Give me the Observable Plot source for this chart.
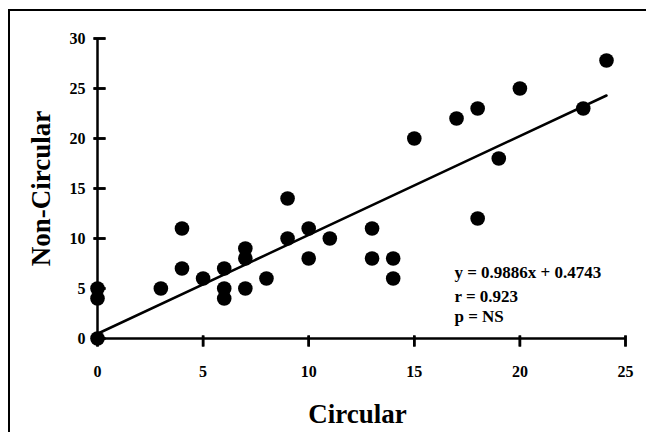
<!DOCTYPE html>
<html>
<head>
<meta charset="utf-8">
<script src="https://cdn.jsdelivr.net/npm/d3@7"></script>
<script src="https://cdn.jsdelivr.net/npm/@observablehq/plot@0.6"></script>
<style>
  html, body { margin: 0; padding: 0; background: #fff; overflow: hidden; width: 646px; height: 432px; }
  #wrap { position: relative; width: 646px; height: 432px; }
  #frame { position: absolute; left: 8px; top: 9px; width: 700px; height: 500px; border-left: 2px solid #000; border-top: 2px solid #000; }
  #chart { position: absolute; left: 0; top: 0; }
</style>
</head>
<body>
<div id="wrap"><div id="frame"></div><div id="chart"></div></div>
<script>
// Data
const circular    = [0, 0, 0, 3, 4, 4, 5, 6, 6, 6, 7, 7, 7, 8, 9, 9, 10, 10, 11, 13, 13, 14, 14, 15, 17, 18, 18, 19, 20, 23, 24.1];
const nonCircular = [0, 4, 5, 5, 7, 11, 6, 7, 5, 4, 9, 8, 5, 6, 14, 10, 11, 8, 10, 11, 8, 8, 6, 20, 22, 23, 12, 18, 25, 23, 27.8];
const xTicks = [0, 5, 10, 15, 20, 25];
const yTicks = [0, 5, 10, 15, 20, 25, 30];
const slope = 0.9886;
const intercept = 0.4743;
const statLines = ["y = 0.9886x + 0.4743", "r = 0.923", "p = NS"];
const statY = [6.1, 3.65, 1.66];
const statX = 16.9;

const W = 646, H = 432, mL = 97, mR = 21, mT = 38, mB = 94;
const xDomain = [0, 25], yDomain = [0, 30];
const pxPerX = (W - mL - mR) / (xDomain[1] - xDomain[0]);
const pxPerY = (H - mT - mB) / (yDomain[1] - yDomain[0]);

const points = circular.map((x, i) => ({x, y: nonCircular[i]}));
const fitX = [0, d3.max(circular)];
const fit = fitX.map(x => ({x, y: slope * x + intercept}));
const stats = statLines.map((t, i) => ({t, x: statX, y: statY[i]}));

// cross ticks: y ticks extend 4px left / 8px right, x ticks 3px up / 8px down
const yTickSegs = yTicks.map(v => ({x1: -4 / pxPerX, x2: 8 / pxPerX, y1: v, y2: v}));
const xTickSegs = xTicks.map(v => ({x1: v, x2: v, y1: 3 / pxPerY, y2: -8 / pxPerY}));
const hTick = {draw(ctx) { ctx.moveTo(-4, 0); ctx.lineTo(8, 0); }};
const vTick = {draw(ctx) { ctx.moveTo(0, -3); ctx.lineTo(0, 8); }};

const font = "'Liberation Serif', 'Times New Roman', serif";

const chart = Plot.plot({
  width: W,
  height: H,
  marginLeft: mL,
  marginRight: mR,
  marginTop: mT,
  marginBottom: mB,
  style: {fontFamily: font, background: "transparent", color: "#000"},
  x: {domain: xDomain, axis: null},
  y: {domain: yDomain, axis: null},
  marks: [
    Plot.ruleY([0], {stroke: "#000", strokeWidth: 2.5}),
    Plot.ruleX([0], {stroke: "#000", strokeWidth: 2.5}),
    Plot.link(yTickSegs, {x1: "x1", x2: "x2", y1: "y1", y2: "y2", stroke: "#000", strokeWidth: 2.5}),
    Plot.link(xTickSegs, {x1: "x1", x2: "x2", y1: "y1", y2: "y2", stroke: "#000", strokeWidth: 2.5}),
    Plot.dot(yTicks, {x: 0, y: d => d, symbol: hTick, fill: "none", stroke: "#000", strokeWidth: 2.5}),
    Plot.dot(xTicks, {x: d => d, y: 0, symbol: vTick, fill: "none", stroke: "#000", strokeWidth: 2.5}),
    Plot.line(fit, {x: "x", y: "y", stroke: "#000", strokeWidth: 2.5}),
    Plot.dot(points, {x: "x", y: "y", r: 7.3, fill: "#000", stroke: "none"}),
    // tick labels
    Plot.text(yTicks, {x: 0, y: d => d, text: d => String(d), dx: -12, textAnchor: "end", lineAnchor: "middle", fontSize: 16, fontWeight: "bold", fill: "#000"}),
    Plot.text(xTicks, {x: d => d, y: 0, text: d => String(d), dy: 33, textAnchor: "middle", lineAnchor: "middle", fontSize: 16, fontWeight: "bold", fill: "#000"}),
    // statistics annotation
    Plot.text(stats, {x: "x", y: "y", text: "t", textAnchor: "start", lineAnchor: "bottom", fontSize: 17, fontWeight: "bold", fill: "#000"}),
    // axis titles
    Plot.text(["Non-Circular"], {frameAnchor: "left", textAnchor: "middle", lineAnchor: "middle", rotate: -90, dx: -56, fontSize: 27, fontWeight: "bold", fill: "#000"}),
    Plot.text(["Circular"], {frameAnchor: "bottom", textAnchor: "middle", lineAnchor: "bottom", dx: -4, dy: 84, fontSize: 27, fontWeight: "bold", fill: "#000"})
  ]
});
document.getElementById("chart").appendChild(chart);
</script>
</body>
</html>
